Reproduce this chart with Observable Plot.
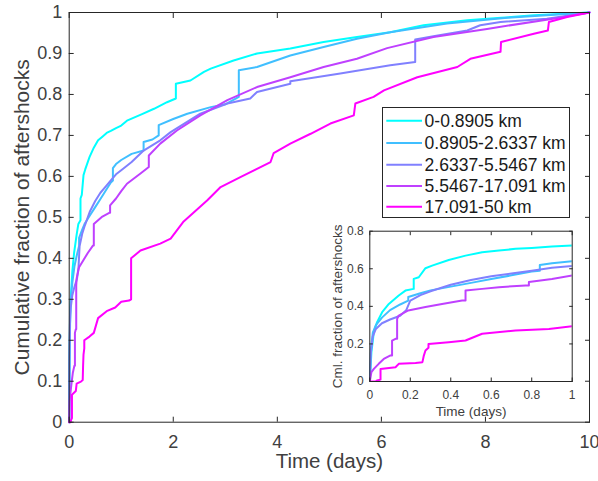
<!DOCTYPE html>
<html><head><meta charset="utf-8">
<script src="https://cdn.jsdelivr.net/npm/d3@7"></script>
<script src="https://cdn.jsdelivr.net/npm/@observablehq/plot@0.6"></script>
<style>
body{margin:0;background:#fff;}
#wrap{position:relative;width:598px;height:481px;font-family:"Liberation Sans",Arial,sans-serif;overflow:hidden;}
#wrap > svg, #wrap > div{position:absolute;left:0;top:0;}
</style></head><body><div id="wrap"></div>
<script>
// ---- data ----
const seriesNames = ["0-0.8905 km", "0.8905-2.6337 km", "2.6337-5.5467 km", "5.5467-17.091 km", "17.091-50 km"];
const seriesColors = ["#00ffff", "#40bfff", "#8080ff", "#bf40ff", "#ff00ff"];

const t1 = [0,0.008,0.02,0.036,0.061,0.094,0.143,0.176,0.217,0.217,0.242,0.275,0.308,0.39,0.473,0.555,0.638,0.72,0.80,0.90,1.0,1.11,1.4,1.63,1.88,2.05,2.05,2.33,2.59,2.72,3.16,3.61,4.25,4.89,5.53,6.17,6.81,7.65,8.3,8.93,10];
const f1 = [0,0.156,0.263,0.316,0.369,0.413,0.458,0.484,0.493,0.546,0.555,0.603,0.617,0.647,0.67,0.688,0.697,0.706,0.711,0.718,0.724,0.736,0.752,0.765,0.781,0.79,0.826,0.834,0.855,0.863,0.883,0.9,0.912,0.928,0.94,0.952,0.969,0.981,0.987,0.993,1];

const t2 = [0,0.005,0.015,0.03,0.06,0.1,0.15,0.19,0.19,0.25,0.3,0.4,0.5,0.6,0.7,0.8,0.84,0.84,0.9,1.0,1.2,1.43,1.43,1.6,1.72,1.72,2.0,2.27,2.72,3.0,3.2,3.26,3.26,3.61,4.25,4.89,5.53,6.17,7.26,8.5,10];
const f2 = [0,0.17,0.26,0.30,0.34,0.38,0.41,0.43,0.45,0.47,0.485,0.505,0.525,0.545,0.565,0.585,0.59,0.62,0.63,0.64,0.655,0.663,0.684,0.69,0.70,0.725,0.74,0.753,0.769,0.776,0.79,0.794,0.859,0.867,0.895,0.916,0.936,0.952,0.973,0.988,1];

const t3 = [0,0.005,0.015,0.03,0.06,0.1,0.15,0.18,0.2,0.25,0.3,0.4,0.5,0.6,0.7,0.8,0.9,1.0,1.2,1.43,1.75,1.95,2.52,3.04,3.48,3.61,4.25,4.25,4.44,5.21,6.17,6.65,6.65,7.0,7.65,7.9,8.29,9.18,10];
const f3 = [0,0.15,0.24,0.28,0.31,0.33,0.35,0.38,0.43,0.46,0.48,0.515,0.54,0.56,0.575,0.59,0.605,0.615,0.635,0.663,0.688,0.708,0.753,0.778,0.79,0.806,0.826,0.832,0.836,0.851,0.871,0.879,0.934,0.942,0.956,0.969,0.977,0.985,1];

const t4 = [0,0.008,0.02,0.044,0.069,0.1,0.11,0.11,0.127,0.135,0.135,0.143,0.19,0.275,0.357,0.456,0.473,0.473,0.555,0.638,0.77,0.786,0.786,0.9,1.0,1.11,1.37,1.53,1.53,1.75,2.07,2.52,3.04,3.61,4.25,4.89,5.53,6.11,7.0,8.03,9.3,10];
const f4 = [0,0.05,0.067,0.094,0.12,0.138,0.138,0.218,0.227,0.227,0.333,0.351,0.378,0.396,0.413,0.431,0.431,0.484,0.493,0.502,0.511,0.511,0.529,0.546,0.564,0.582,0.607,0.623,0.651,0.68,0.712,0.749,0.786,0.818,0.842,0.867,0.887,0.913,0.94,0.96,0.985,1];

const t5 = [0,0.028,0.035,0.053,0.053,0.127,0.143,0.226,0.26,0.267,0.275,0.29,0.29,0.39,0.473,0.555,0.72,0.885,1.0,1.15,1.19,1.19,1.37,1.75,1.95,2.2,2.65,2.91,3.29,3.87,3.93,4.25,4.64,5.02,5.47,5.5,5.85,6.05,6.69,7.46,7.71,8.29,8.3,8.93,9.2,9.22,9.57,10];
const f5 = [0,0,0.005,0.01,0.067,0.076,0.094,0.099,0.103,0.138,0.165,0.18,0.2,0.209,0.218,0.254,0.271,0.28,0.294,0.297,0.30,0.40,0.419,0.436,0.448,0.49,0.541,0.574,0.598,0.635,0.657,0.68,0.704,0.729,0.749,0.778,0.794,0.81,0.842,0.867,0.887,0.904,0.928,0.948,0.956,0.977,0.989,1];

const mainXTicks = [0,2,4,6,8,10];
const mainYTicks = [0,0.1,0.2,0.3,0.4,0.5,0.6,0.7,0.8,0.9,1];
const insetXTicks = [0,0.2,0.4,0.6,0.8,1];
const insetYTicks = [0,0.2,0.4,0.6,0.8];

const mainXLabel = "Time (days)";
const mainYLabel = "Cumulative fraction of aftershocks";
const insetXLabel = "Time (days)";
const insetYLabel = "Cml. fraction of aftershocks";

// ---- build table ----
const T = [t1,t2,t3,t4,t5], F = [f1,f2,f3,f4,f5];
const rows = [];
seriesNames.forEach((s, i) => T[i].forEach((t, j) => rows.push({s, t, f: F[i][j]})));
const insetRows = rows.filter(d => d.t <= 1);

const axisColor = "#262626";
const textColor = "#404040";
const font = "'Liberation Sans', Arial, sans-serif";
const fmt = d => String(+d.toFixed(2));

function boxAxes(xt, yt, L, fs, padX, padY) {
  return [
    Plot.frame({stroke: axisColor, strokeWidth: 1}),
    Plot.axisX({ticks: xt, anchor: "bottom", fill: "none", tickSize: L, dy: -L, stroke: axisColor, label: null}),
    Plot.axisX({ticks: xt, anchor: "top", fill: "none", tickSize: L, dy: L, stroke: axisColor, label: null}),
    Plot.axisY({ticks: yt, anchor: "left", fill: "none", tickSize: L, dx: L, stroke: axisColor, label: null}),
    Plot.axisY({ticks: yt, anchor: "right", fill: "none", tickSize: L, dx: -L, stroke: axisColor, label: null}),
    Plot.axisX({ticks: xt, anchor: "bottom", tickSize: 0, tickPadding: padX, fontSize: fs, tickFormat: fmt, label: null, fill: textColor}),
    Plot.axisY({ticks: yt, anchor: "left", tickSize: 0, tickPadding: padY, fontSize: fs, tickFormat: fmt, label: null, fill: textColor})
  ];
}

const main = Plot.plot({
  width: 598, height: 481,
  marginLeft: 68.7, marginRight: 9, marginTop: 12, marginBottom: 59.3,
  style: {fontFamily: font, background: "transparent", color: textColor},
  x: {domain: [0, 10]},
  y: {domain: [0, 1]},
  color: {domain: seriesNames, range: seriesColors},
  marks: [
    Plot.line(rows, {x: "t", y: "f", z: "s", stroke: "s", strokeWidth: 2, curve: "linear"}),
    ...boxAxes(mainXTicks, mainYTicks, 5, 18, 13, 7),
    Plot.text([mainXLabel], {frameAnchor: "bottom", dy: 39.5, fontSize: 20.5, fill: textColor, textAnchor: "middle", lineAnchor: "middle"}),
    Plot.text([mainYLabel], {frameAnchor: "left", dx: -47.3, rotate: -90, fontSize: 21, fill: textColor, textAnchor: "middle", lineAnchor: "middle"})
  ]
});

const inset = Plot.plot({
  width: 598, height: 481,
  marginLeft: 369.3, marginRight: 26.3, marginTop: 230.7, marginBottom: 100,
  style: {fontFamily: font, background: "transparent", color: textColor},
  x: {domain: [0, 1]},
  y: {domain: [0, 0.8]},
  color: {domain: seriesNames, range: seriesColors},
  marks: [
    Plot.frame({fill: "white"}),
    Plot.line(insetRows, {x: "t", y: "f", z: "s", stroke: "s", strokeWidth: 2, curve: "linear", clip: true}),
    ...boxAxes(insetXTicks, insetYTicks, 3.5, 12, 9, 6),
    Plot.text([insetXLabel], {frameAnchor: "bottom", dy: 30, fontSize: 13.5, fill: textColor, textAnchor: "middle", lineAnchor: "middle"}),
    Plot.text([insetYLabel], {frameAnchor: "left", dx: -32, rotate: -90, fontSize: 13.5, fill: textColor, textAnchor: "middle", lineAnchor: "middle"})
  ]
});

const wrap = document.getElementById("wrap");
wrap.appendChild(main);
wrap.appendChild(inset);

// legend
const lg = document.createElement("div");
lg.style.cssText = "left:381.7px;top:107px;width:188px;height:111px;border:1px solid #262626;background:#fff;box-sizing:border-box;";
const ns = "http://www.w3.org/2000/svg";
const lsvg = document.createElementNS(ns, "svg");
lsvg.setAttribute("width", 188); lsvg.setAttribute("height", 111);
lsvg.style.position = "absolute"; lsvg.style.left = "-1px"; lsvg.style.top = "-1px";
const rowY = [13.7, 36.0, 57.8, 78.9, 99.7];
seriesNames.forEach((s, i) => {
  const ln = document.createElementNS(ns, "line");
  ln.setAttribute("x1", 4.3); ln.setAttribute("x2", 40);
  ln.setAttribute("y1", rowY[i]); ln.setAttribute("y2", rowY[i]);
  ln.setAttribute("stroke", seriesColors[i]); ln.setAttribute("stroke-width", 2);
  lsvg.appendChild(ln);
  const tx = document.createElementNS(ns, "text");
  tx.setAttribute("x", 42.6); tx.setAttribute("y", rowY[i]);
  tx.setAttribute("dy", "0.34em");
  tx.setAttribute("font-size", 17.5);
  tx.setAttribute("font-family", font);
  tx.setAttribute("fill", "#1a1a1a");
  tx.textContent = s;
  lsvg.appendChild(tx);
});
lg.appendChild(lsvg);
wrap.appendChild(lg);
</script>
</body></html>
